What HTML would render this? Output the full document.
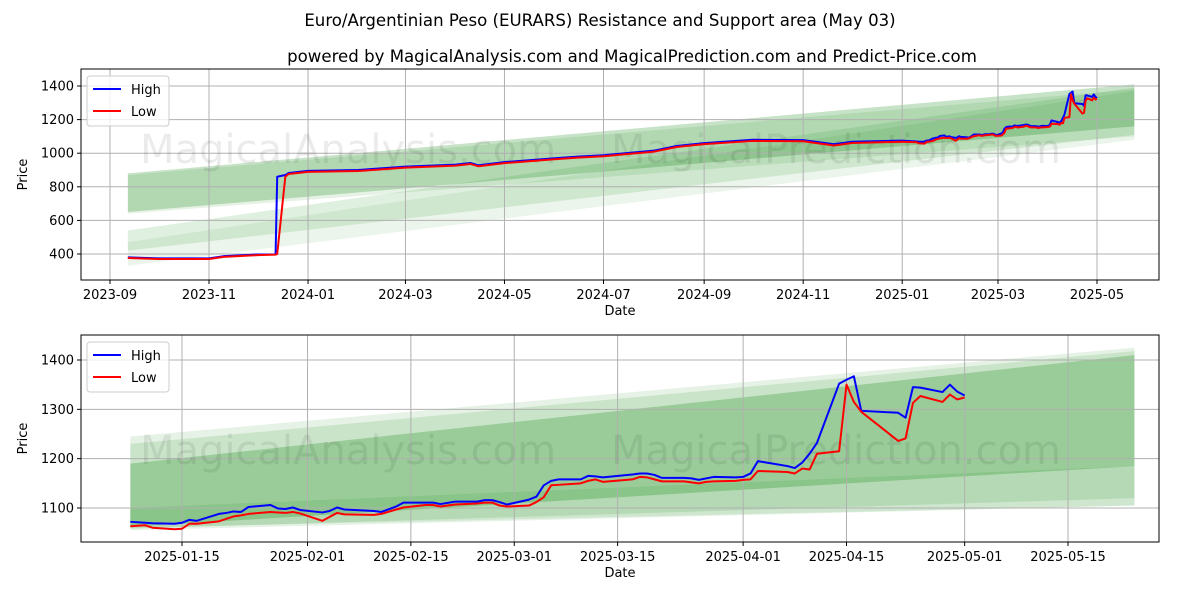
<!DOCTYPE html>
<html><head><meta charset="utf-8">
<style>
body{margin:0;background:#fff;font-family:"Liberation Sans","DejaVu Sans",sans-serif;}
svg text{font-family:"DejaVu Sans","Liberation Sans",sans-serif;}
</style></head>
<body>
<svg id="c" width="1200" height="600" xmlns="http://www.w3.org/2000/svg">
<text x="600" y="26" text-anchor="middle" font-size="16.6">Euro/Argentinian Peso (EURARS) Resistance and Support area (May 03)</text>
<text x="632" y="62" text-anchor="middle" font-size="16.6">powered by MagicalAnalysis.com and MagicalPrediction.com and Predict-Price.com</text>
</svg>
<script>
// ---- top chart data ----
const topDates=["2023-09-12","2023-10-01","2023-11-01","2023-11-10","2023-12-01","2023-12-12","2023-12-13","2023-12-18","2023-12-20","2024-01-01","2024-02-01","2024-03-01","2024-04-01","2024-04-10","2024-04-15","2024-05-01","2024-06-01","2024-06-15","2024-07-01","2024-08-01","2024-08-15","2024-09-01","2024-10-01","2024-11-01","2024-11-20","2024-12-01","2025-01-01"];
const topHigh=[380,374,374,387,397,398,860,870,882,895,900,920,932,942,928,947,970,980,988,1015,1043,1060,1080,1078,1053,1068,1075];
const topLow=[376,370,370,383,393,396,400,860,876,889,894,914,926,936,922,941,964,974,982,1009,1037,1054,1073,1071,1046,1061,1068];
const topYTicks=[400,600,800,1000,1200,1400];
const topXTicks=["2023-09","2023-11","2024-01","2024-03","2024-05","2024-07","2024-09","2024-11","2025-01","2025-03","2025-05"];
// ---- bottom chart data ----
const botDates=["2025-01-08","2025-01-10","2025-01-11","2025-01-14","2025-01-15","2025-01-16","2025-01-17","2025-01-20","2025-01-21","2025-01-22","2025-01-23","2025-01-24","2025-01-27","2025-01-28","2025-01-29","2025-01-30","2025-01-31","2025-02-03","2025-02-04","2025-02-05","2025-02-06","2025-02-10","2025-02-11","2025-02-13","2025-02-14","2025-02-17","2025-02-18","2025-02-19","2025-02-21","2025-02-24","2025-02-25","2025-02-26","2025-02-27","2025-02-28","2025-03-03","2025-03-04","2025-03-05","2025-03-06","2025-03-07","2025-03-10","2025-03-11","2025-03-12","2025-03-13","2025-03-17","2025-03-18","2025-03-19","2025-03-20","2025-03-21","2025-03-24","2025-03-25","2025-03-26","2025-03-27","2025-03-28","2025-03-31","2025-04-01","2025-04-02","2025-04-03","2025-04-07","2025-04-08","2025-04-09","2025-04-10","2025-04-11","2025-04-14","2025-04-15","2025-04-16","2025-04-17","2025-04-22","2025-04-23","2025-04-24","2025-04-25","2025-04-28","2025-04-29","2025-04-30","2025-05-01"];
const botHigh=[1072,1070,1069,1068,1070,1076,1074,1088,1090,1093,1092,1102,1106,1099,1098,1101,1096,1091,1094,1101,1097,1094,1092,1103,1111,1111,1111,1108,1113,1113,1116,1116,1112,1107,1117,1123,1146,1155,1158,1158,1165,1164,1162,1168,1170,1170,1167,1161,1161,1160,1157,1160,1163,1162,1163,1170,1195,1185,1181,1192,1210,1232,1352,1360,1367,1297,1293,1283,1345,1344,1335,1350,1336,1328];
const botLow=[1063,1065,1060,1057,1058,1068,1068,1073,1078,1083,1085,1088,1092,1091,1090,1092,1089,1074,1082,1090,1087,1086,1088,1097,1101,1106,1106,1103,1107,1109,1111,1111,1105,1103,1105,1112,1122,1146,1147,1150,1155,1158,1153,1158,1163,1162,1158,1154,1154,1152,1150,1153,1154,1155,1157,1158,1175,1173,1170,1180,1178,1210,1215,1350,1315,1295,1236,1241,1313,1327,1315,1330,1320,1324];
const botYTicks=[1100,1200,1300,1400];
const botXTicks=["2025-01-15","2025-02-01","2025-02-15","2025-03-01","2025-03-15","2025-04-01","2025-04-15","2025-05-01","2025-05-15"];
// bands: [startDate,endDate,startLo,startHi,endLo,endHi,opacity]
const topBands=[["2023-09-12","2025-05-24",650,880,1160,1410,0.22],["2023-09-12","2025-05-24",640,870,1100,1380,0.1],["2023-09-12","2025-05-24",420,540,1110,1390,0.12],["2023-09-12","2025-05-24",330,470,1080,1370,0.08]];
const botBands=[["2025-01-08","2025-05-24",1060,1245,1105,1425,0.1],["2025-01-08","2025-05-24",1058,1230,1120,1418,0.12],["2025-01-08","2025-05-24",1062,1190,1185,1410,0.24],["2025-01-08","2025-05-24",1055,1100,1105,1185,0.1]];

const NS="http://www.w3.org/2000/svg";
const svg=document.getElementById('c');
function mk(tag,attrs,parent){const e=document.createElementNS(NS,tag);for(const k in attrs)e.setAttribute(k,attrs[k]);(parent||svg).appendChild(e);return e;}
function day(s){if(s.length===7)s+="-01";return Date.parse(s+"T00:00:00Z")/86400000;}

function panel(o){
  const g=mk('g',{});
  
  
  const X=d=>o.x0+(day(d)-day(o.d0))*o.pxd;
  const Y=v=>o.y0-(v-o.v0)*o.pxv;
  o.bands.forEach((b,i)=>{
    const p=mk('polygon',{points:`${X(b[0])},${Y(b[2])} ${X(b[0])},${Y(b[3])} ${X(b[1])},${Y(b[5])} ${X(b[1])},${Y(b[4])}`,fill:'green','fill-opacity':b[6]},g);
    
    
  });
  o.yt.forEach(v=>{
    const l=mk('line',{x1:o.L,x2:o.R,y1:Y(v),y2:Y(v),stroke:'#b0b0b0','stroke-width':1},g);
    
    mk('line',{x1:o.L-4,x2:o.L,y1:Y(v),y2:Y(v),stroke:'#000'},g);
    const t=mk('text',{x:o.L-7,y:Y(v)+4.5,'text-anchor':'end','font-size':13},g);t.textContent=v;
    
  });
  o.xt.forEach(d=>{
    const x=X(d);
    const l=mk('line',{x1:x,x2:x,y1:o.T,y2:o.B,stroke:'#b0b0b0','stroke-width':1},g);
    
    mk('line',{x1:x,x2:x,y1:o.B,y2:o.B+4,stroke:'#000'},g);
    const t=mk('text',{x:x,y:o.B+19,'text-anchor':'middle','font-size':13},g);t.textContent=d;
    
  });
  [[o.wm1x,o.wmy,'MagicalAnalysis.com'],[o.wm2x,o.wmy,'MagicalPrediction.com']].forEach(w=>{
    const t=mk('text',{x:w[0],y:w[1],'font-size':40,fill:'#000','fill-opacity':0.08,'text-anchor':'middle'},g);t.textContent=w[2];
    
  });
  [[o.high,'#0000ff','high-line'],[o.low,'#ff0000','low-line']].forEach(s=>{
    const pts=o.dates.map((d,i)=>X(d)+','+Y(s[0][i])).join(' ');
    const p=mk('polyline',{points:pts,fill:'none',stroke:s[1],'stroke-width':2,'stroke-linejoin':'round'},g);
    
  });
  mk('rect',{x:o.L,y:o.T,width:o.R-o.L,height:o.B-o.T,fill:'none',stroke:'#000','stroke-width':1},g);
  const xt=mk('text',{x:(o.L+o.R)/2,y:o.B+35,'text-anchor':'middle','font-size':13},g);xt.textContent='Date';
  
  const yt=mk('text',{x:0,y:0,'text-anchor':'middle','font-size':13,transform:`translate(27,${(o.T+o.B)/2}) rotate(-90)`},g);yt.textContent='Price';
  
  const lg=mk('g',{},g);
  
  mk('rect',{x:o.L+6,y:o.T+7,width:82,height:50,rx:3,fill:'#fff','fill-opacity':0.8,stroke:'#ccc'},lg);
  [['High','#0000ff',20],['Low','#ff0000',42]].forEach(e=>{
    mk('line',{x1:o.L+12,x2:o.L+40,y1:o.T+e[2],y2:o.T+e[2],stroke:e[1],'stroke-width':2},lg);
    const t=mk('text',{x:o.L+50,y:o.T+e[2]+5,'font-size':13},lg);t.textContent=e[0];
    
  });
}
panel({name:'top-panel',L:81,R:1159,T:69,B:280,x0:110,d0:"2023-09-01",pxd:987/608,y0:254,v0:400,pxv:0.168,
  bands:topBands,yt:topYTicks,xt:topXTicks,dates:topDates.concat(botDates.slice(1)),
  high:topHigh.concat(botHigh.slice(1)),low:topLow.concat(botLow.slice(1)),wm1x:348,wm2x:836,wmy:163});
panel({name:'bottom-panel',L:81,R:1159,T:335,B:542,x0:182,d0:"2025-01-15",pxd:886/120,y0:508,v0:1100,pxv:148/300,
  bands:botBands,yt:botYTicks,xt:botXTicks,dates:botDates,high:botHigh,low:botLow,wm1x:348,wm2x:836,wmy:464});
</script>
</body></html>
